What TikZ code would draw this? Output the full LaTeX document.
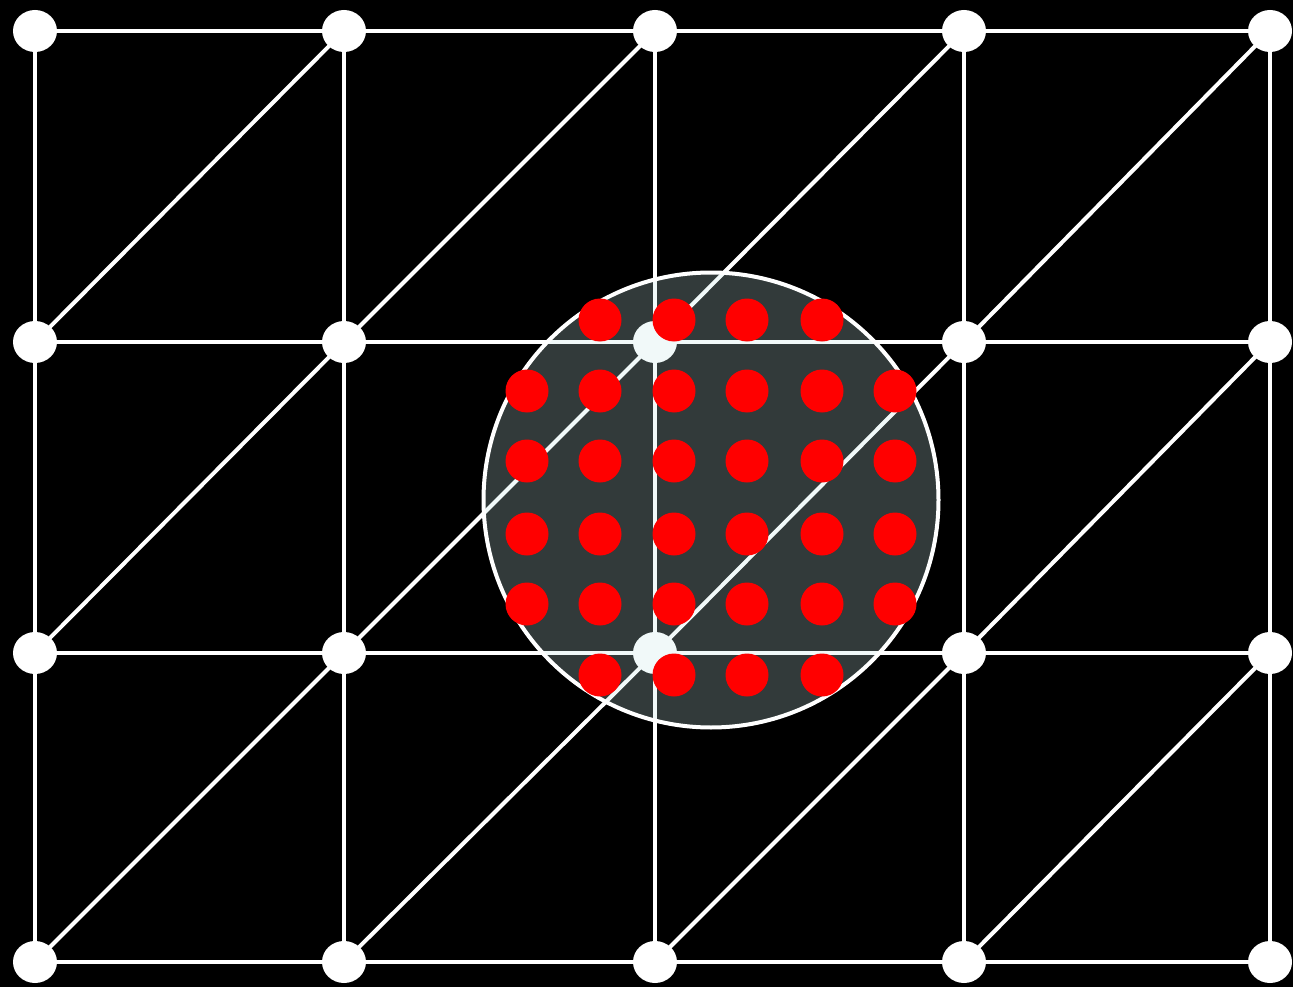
\documentclass[tikz,border=0pt]{standalone}
\usetikzlibrary{shapes.geometric}
\begin{document}
\begin{tikzpicture}[x=1pt,y=-1pt,
  vert/.style={ellipse,fill=white,minimum width=44pt,minimum height=42pt,inner sep=0pt},
  reddot/.style={circle,fill=red,minimum size=43pt,inner sep=0pt},
  linkstyle/.style={white,line width=4pt},
  diskstyle/.style={fill={rgb,255:red,200;green,235;blue,235},fill opacity=0.25,draw=white,line width=4pt}]
\fill[black] (0,0) rectangle (1293,987);
\useasboundingbox (0,0) rectangle (1293,987);
\def\xs{{35,344,655,964,1270}}
\def\ys{{31,342,653,962}}
% vertices
\foreach \i in {0,...,4}{
  \foreach \j in {0,...,3}{
    \pgfmathsetmacro\px{\xs[\i]}
    \pgfmathsetmacro\py{\ys[\j]}
    \coordinate (c-\i-\j) at (\px,\py);
  }
}
% edges
\foreach \i in {0,...,4}{
  \foreach \j [count=\k from 1] in {0,1,2}{
    \draw[linkstyle] (c-\i-\j) -- (c-\i-\k);
  }
}
\foreach \j in {0,...,3}{
  \foreach \i [count=\k from 1] in {0,...,3}{
    \draw[linkstyle] (c-\i-\j) -- (c-\k-\j);
  }
}
\foreach \i [count=\k from 1] in {0,...,3}{
  \foreach \j [count=\m from 1] in {0,1,2}{
    \draw[linkstyle] (c-\i-\m) -- (c-\k-\j);
  }
}
\foreach \i in {0,...,4}{
  \foreach \j in {0,...,3}{
    \node[vert] (n-\i-\j) at (c-\i-\j) {};
  }
}
% overlay disk
\node[circle,minimum size=455pt,inner sep=0pt,diskstyle] (disk) at (711,500) {};
% red dots
\def\rx{{527,600,674,747,822,895}}
\def\ry{{320,391,461,534,604,675}}
\foreach \a in {0,...,5}{
  \foreach \b in {0,...,5}{
    \pgfmathsetmacro\qx{\rx[\a]}
    \pgfmathsetmacro\qy{\ry[\b]}
    \pgfmathtruncatemacro\skipme{((\b==0 || \b==5) && (\a==0 || \a==5)) ? 1 : 0}
    \ifnum\skipme=0
      \node[reddot] (r-\a-\b) at (\qx,\qy) {};
    \fi
  }
}
\end{tikzpicture}
\end{document}
